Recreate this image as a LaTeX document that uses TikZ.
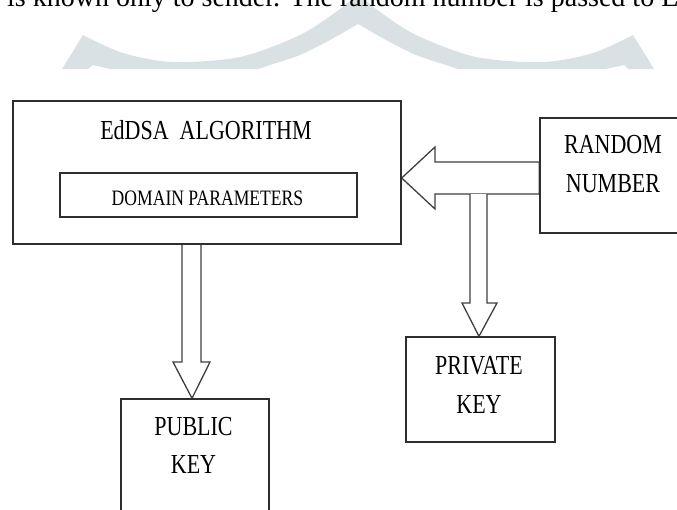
\documentclass[tikz,border=0pt]{standalone}
\usepackage{fontspec}
\setmainfont{Liberation Serif}
\newfontfamily\condensed[FakeStretch=0.8]{Liberation Serif}
\usetikzlibrary{calc}
\definecolor{boxline}{HTML}{2E2E2E}
\definecolor{arrowline}{HTML}{3F3F3F}
\definecolor{crest}{HTML}{DAE1E5}
\pgfdeclarelayer{back}
\pgfsetlayers{back,main}

\begin{document}
\begin{tikzpicture}[x=1pt,y=-1pt,
  block/.style={draw=boxline, line width=1.4pt, inner sep=0pt},
  caption/.style={font=\condensed\fontsize{27.5}{39}\selectfont, align=center, anchor=base, inner sep=0pt},
  fatarrow/.style={draw=arrowline, line width=1.3pt, fill=white, line join=miter}]
\useasboundingbox (0,0) rectangle (677,509);

% light crest behind the running text
\fill[crest] (62,69) -- (83,35)
  -- plot[smooth] coordinates {(83,35) (123,53) (173,62) (240,57) (300,35) (340,9) (358,-6)}
  -- plot[smooth] coordinates {(358,-6) (376,9) (416,35) (476,57) (543,62) (593,53) (633,35)}
  -- (654,69) -- (628,69) -- (624,65) -- (606,69) -- (458,69)
  -- plot[smooth] coordinates {(458,69) (446,65) (416,55) (386,40) (358,24)}
  -- plot[smooth] coordinates {(358,24) (330,40) (300,55) (270,65) (258,69)}
  -- (110,69) -- (93,65) -- (88,69) -- cycle;

% running text line
\node[font=\fontsize{28}{30}\selectfont, anchor=base west, inner sep=0pt] (lead) at (7,6)
  {is known only to sender. The random number is passed to E};

% boxes
\node[block, minimum width=388pt, minimum height=143pt] (algo) at (207,172.5) {};
\node[block, minimum width=297pt, minimum height=44pt] (dom) at (208.5,195) {};
\node[block, minimum width=146pt, minimum height=115pt] (rand) at (613,175.5) {};
\node[block, minimum width=149pt, minimum height=105pt] (priv) at (480.5,389.5) {};
\node[block, minimum width=148pt, minimum height=130pt] (pub) at (195,464) {};

% box texts (base anchor sits on the last line)
\node[caption] (algotext) at (206,139.3) {EdDSA~~ALGORITHM};
\node[caption, font=\condensed\fontsize{22}{26}\selectfont] (domtext) at (207.5,205) {DOMAIN PARAMETERS};
\node[caption] (randtext) at (613,192) {RANDOM\\NUMBER};
\node[caption] (privtext) at (479,413) {PRIVATE\\KEY};
\node[caption, font=\condensed\fontsize{27.5}{38}\selectfont] (pubtext) at (193.5,473) {PUBLIC\\KEY};

% block arrows
\begin{pgfonlayer}{back}
\draw[fatarrow] (rand.west |- 0,162) -- (435,162) -- (435,147) -- (algo.east |- 0,178)
  -- (435,209) -- (435,194) -- (rand.west |- 0,194) -- cycle;
\draw[fatarrow] (470,194) -- (470,303) -- (462,303) -- ([xshift=-1.5pt]priv.north)
  -- (497,303) -- (487,303) -- (487,194);
\draw[fatarrow] (182,0 |- algo.south) -- (182,362) -- (173,362) -- ([xshift=-3pt]pub.north)
  -- (210,362) -- (201,362) -- (201,0 |- algo.south);
\end{pgfonlayer}
\end{tikzpicture}
\end{document}
